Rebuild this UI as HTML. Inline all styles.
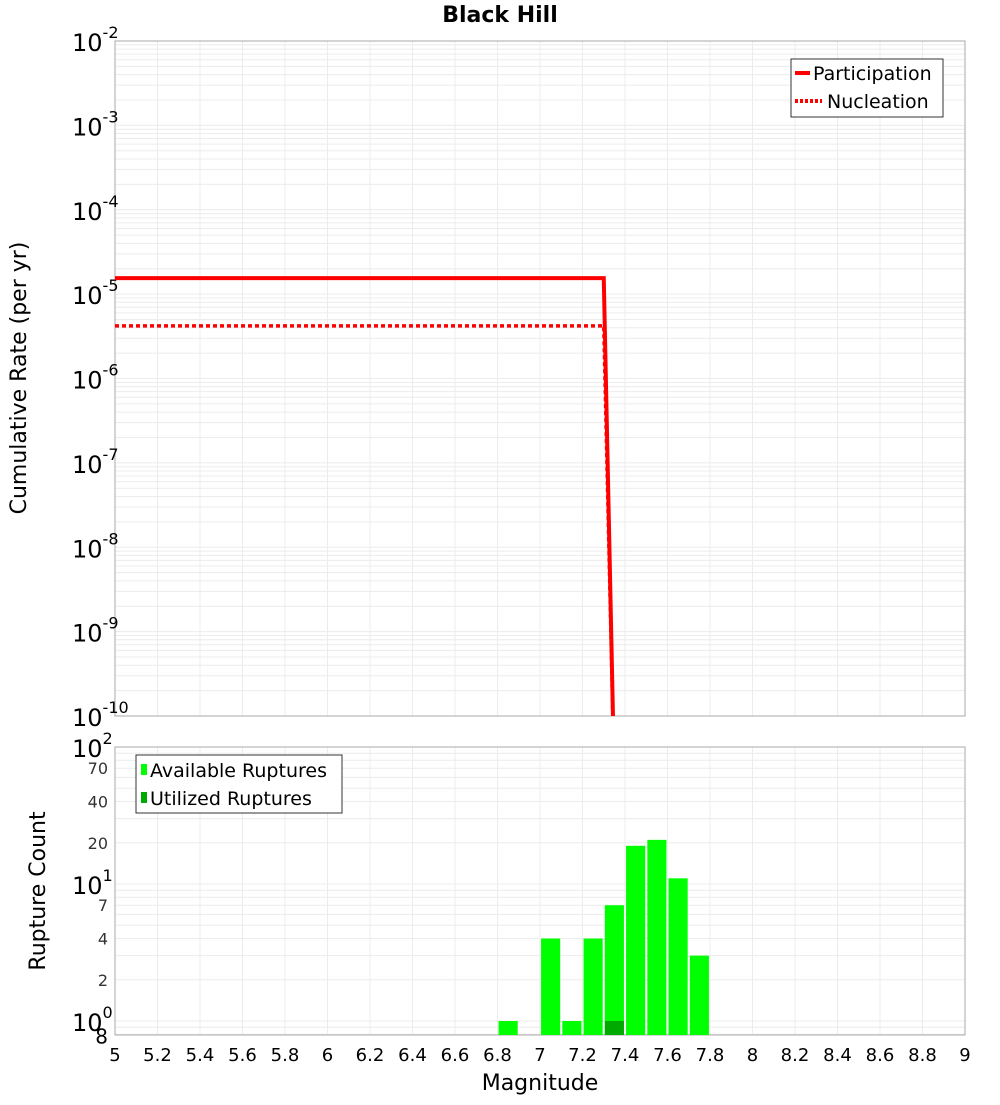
<!DOCTYPE html>
<html><head><meta charset="utf-8"><style>
body{margin:0;background:#fff;font-family:"Liberation Sans","DejaVu Sans",sans-serif}
</style></head><body>
<svg id="c" width="1000" height="1100" xmlns="http://www.w3.org/2000/svg" font-family="DejaVu Sans, Liberation Sans, sans-serif">
<text x="500" y="22" text-anchor="middle" font-size="22" font-weight="bold">Black Hill</text>
<defs><clipPath id="tc"><rect x="115" y="41" width="850" height="675"/></clipPath><clipPath id="bc"><rect x="115" y="747" width="850" height="288"/></clipPath></defs>
<g id="gtop"></g>
<g id="gbot"></g>
<text transform="translate(26,378) rotate(-90)" text-anchor="middle" font-size="22">Cumulative Rate (per yr)</text>
<text transform="translate(45,891) rotate(-90)" text-anchor="middle" font-size="22">Rupture Count</text>
<text x="540" y="1090" text-anchor="middle" font-size="22">Magnitude</text>
<g>
<rect x="791" y="59" width="152" height="58" fill="#fff" stroke="#333"/>
<line x1="795" y1="73" x2="810" y2="73" stroke="#f00" stroke-width="4"/>
<text x="813" y="80" font-size="19">Participation</text>
<line x1="795" y1="101" x2="822" y2="101" stroke="#f00" stroke-width="4" stroke-dasharray="3,2"/>
<text x="827" y="108" font-size="19">Nucleation</text>
</g>
<g>
<rect x="136" y="755" width="206" height="58" fill="#fff" stroke="#333"/>
<rect x="141" y="764" width="6" height="11" fill="#00ff00"/>
<text x="150" y="777" font-size="19">Available Ruptures</text>
<rect x="141" y="792" width="6" height="11" fill="#00aa00"/>
<text x="150" y="805" font-size="19">Utilized Ruptures</text>
</g>
</svg>
<script>
const partMags=[5,7.3,7.35];
const partRates=[1.55e-5,1.55e-5,1.6e-11];
const nuclMags=[5,7.3,7.35];
const nuclRates=[4.2e-6,4.2e-6,1.6e-11];
const binMags=[6.85,6.95,7.05,7.15,7.25,7.35,7.45,7.55,7.65,7.75];
const availCounts=[1,0,4,1,4,7,19,21,11,3];
const utilCounts=[0,0,0,0,0,1,0,0,0,0];
const xTicks=[5,5.2,5.4,5.6,5.8,6,6.2,6.4,6.6,6.8,7,7.2,7.4,7.6,7.8,8,8.2,8.4,8.6,8.8,9];
const NS="http://www.w3.org/2000/svg";
const X=m=>115+(m-5)*212.5;
const YT=v=>41+(-2-Math.log10(v))*84.375;
const YB=v=>884+(1-Math.log10(v))*137;
function mk(p,t,a){const e=document.createElementNS(NS,t);for(const k in a)e.setAttribute(k,a[k]);p.appendChild(e);return e;}
const gTop=document.getElementById('gtop'),gBot=document.getElementById('gbot');
const svgRoot=document.getElementById('c');
for(let d=-10;d<-2;d++)for(let k=1;k<10;k++){const y=YT(k*Math.pow(10,d));mk(gTop,'line',{x1:115,x2:965,y1:y,y2:y,stroke:'#ececec','stroke-width':1});}
for(let d=-1;d<2;d++)for(let k=1;k<10;k++){const v=k*Math.pow(10,d);if(v<0.8||v>100)continue;const y=YB(v);mk(gBot,'line',{x1:115,x2:965,y1:y,y2:y,stroke:'#ececec','stroke-width':1});}
xTicks.forEach(t=>{const x=X(t);mk(gTop,'line',{x1:x,x2:x,y1:41,y2:716,stroke:'#ececec'});mk(gBot,'line',{x1:x,x2:x,y1:747,y2:1035,stroke:'#ececec'});
const tx=mk(svgRoot,'text',{x:x,y:1061,'text-anchor':'middle','font-size':18});


tx.textContent=t;});
mk(gTop,'rect',{x:115,y:41,width:850,height:675,fill:'none',stroke:'#aaa'});
mk(gBot,'rect',{x:115,y:747,width:850,height:288,fill:'none',stroke:'#aaa'});
for(let d=-2;d>=-10;d--){const y=YT(Math.pow(10,d));const t=mk(gTop,'text',{x:72,y:y+10,'font-size':24});


t.innerHTML='10<tspan dy="-13" font-size="16">'+d+'</tspan>';}
[[100,'2'],[10,'1'],[1,'0']].forEach(([v,e])=>{const y=YB(v);const t=mk(gBot,'text',{x:72,y:y+10,'font-size':24});


t.innerHTML='10<tspan dy="-13" font-size="16">'+e+'</tspan>';});
[70,40,20,7,4,2,0.8].forEach(v=>{const t=mk(gBot,'text',{x:108,y:YB(v)+(v==0.8?9:6),'text-anchor':'end','font-size':v==0.8?20:16,fill:v==0.8?'#000':'#333'});


t.textContent=v==0.8?'8':String(v);});
const bg=mk(gBot,'g',{'clip-path':'url(#bc)'});
binMags.forEach((m,i)=>{if(availCounts[i]>0){const y=YB(availCounts[i]);const r=mk(bg,'rect',{x:X(m-0.045),y:y,width:0.09*212.5,height:1035-y,fill:'#00ff00'});

}
if(utilCounts[i]>0){const y=YB(utilCounts[i]);const r=mk(bg,'rect',{x:X(m-0.045),y:y,width:0.09*212.5,height:1035-y,fill:'#00aa00'});

}});
const lg=mk(gTop,'g',{'clip-path':'url(#tc)'});
const pts=(ms,rs)=>ms.map((m,i)=>X(m)+','+YT(rs[i])).join(' ');
const n=mk(lg,'polyline',{points:pts(nuclMags,nuclRates),fill:'none',stroke:'#f00','stroke-width':3.5,'stroke-dasharray':'4,3'});


const p=mk(lg,'polyline',{points:pts(partMags,partRates),fill:'none',stroke:'#f00','stroke-width':4});


</script>
</body></html>
